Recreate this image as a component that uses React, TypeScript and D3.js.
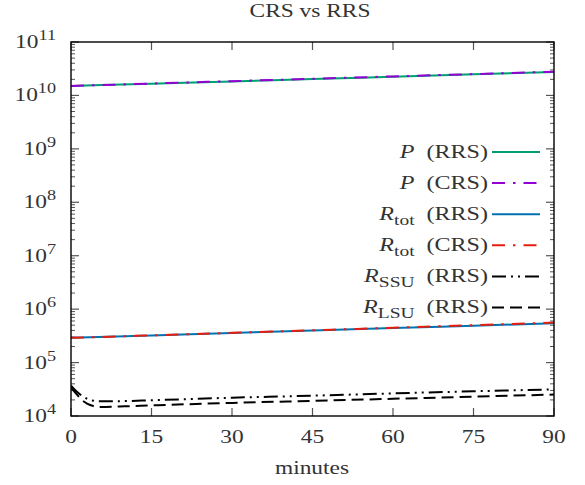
import React from "react";
import * as d3 from "d3";

// minutes
const tGrid = [0, 15, 30, 45, 60, 75, 90];
const tFine = [0, 1, 2, 3, 4, 5, 10, 15, 30, 45, 60, 75, 90];

const pRRS = [1.5e10, 1.66e10, 1.83e10, 2.03e10, 2.24e10, 2.48e10, 2.75e10];
const pCRS = [1.5e10, 1.67e10, 1.85e10, 2.05e10, 2.27e10, 2.51e10, 2.78e10];
const rTotRRS = [2.9e5, 3.22e5, 3.58e5, 3.97e5, 4.42e5, 4.9e5, 5.45e5];
const rTotCRS = [2.9e5, 3.23e5, 3.6e5, 4.02e5, 4.48e5, 5.0e5, 5.6e5];
const rSSU = [3.7e4, 2.9e4, 2.4e4, 2.1e4, 1.95e4, 1.88e4, 1.9e4, 1.97e4, 2.2e4, 2.4e4, 2.65e4, 2.9e4, 3.15e4];
const rLSU = [3.4e4, 2.6e4, 2.0e4, 1.7e4, 1.55e4, 1.48e4, 1.52e4, 1.58e4, 1.76e4, 1.92e4, 2.1e4, 2.3e4, 2.52e4];

const xTicks = [0, 15, 30, 45, 60, 75, 90];
const yDecades = [4, 5, 6, 7, 8, 9, 10, 11];

const W = 585, H = 485;
const left = 71, right = 554, top = 42, bottom = 416;
const SX = 1.3;
const FONT = "'Liberation Serif', serif";
const INK = "#333";

const series = [
  { name: "P", sub: "", tag: "(RRS)", t: tGrid, v: pRRS, color: "#009e73", dash: "" },
  { name: "P", sub: "", tag: "(CRS)", t: tGrid, v: pCRS, color: "#9400d3", dash: "13,8,2.5,8" },
  { name: "R", sub: "tot", tag: "(RRS)", t: tGrid, v: rTotRRS, color: "#0072b2", dash: "" },
  { name: "R", sub: "tot", tag: "(CRS)", t: tGrid, v: rTotCRS, color: "#e51e10", dash: "13,8,2.5,8" },
  { name: "R", sub: "SSU", tag: "(RRS)", t: tFine, v: rSSU, color: "#000", dash: "14,5,2,5,2,5" },
  { name: "R", sub: "LSU", tag: "(RRS)", t: tFine, v: rLSU, color: "#000", dash: "12,6" },
];

function Txt(props: { x: number; y: number; anchor: string; size: number; children: React.ReactNode }) {
  return (
    <g transform={`translate(${props.x},${props.y}) scale(${SX},1)`}>
      <text textAnchor={props.anchor} fontSize={props.size} fontFamily={FONT} fill={INK}>
        {props.children}
      </text>
    </g>
  );
}

export default function App() {
  const x = d3.scaleLinear().domain([0, 90]).range([left, right]);
  const y = d3.scaleLog().domain([1e4, 1e11]).range([bottom, top]);

  const minor: number[] = [];
  yDecades.slice(0, -1).forEach((d) => {
    for (let k = 2; k <= 9; k++) minor.push(k * Math.pow(10, d));
  });

  const lineGen = (t: number[]) =>
    d3
      .line<number>()
      .x((_, i) => x(t[i]))
      .y((d) => y(d))
      .curve(d3.curveMonotoneX);

  const legX1 = 492, legX2 = 540, legY0 = 152, legStep = 31.1;

  return (
    <svg width={W} height={H} style={{ position: "absolute", left: 0, top: 0 }}>
      <rect width={W} height={H} fill="#fff" />
      <defs>
        <clipPath id="plot">
          <rect x={left} y={top} width={right - left} height={bottom - top} />
        </clipPath>
      </defs>

      {/* ticks */}
      {xTicks.map((t) => (
        <g key={"xt" + t} stroke="#555" strokeWidth={1.2}>
          <line x1={x(t)} x2={x(t)} y1={bottom} y2={bottom - 8} />
          <line x1={x(t)} x2={x(t)} y1={top} y2={top + 8} />
        </g>
      ))}
      {yDecades.map((d) => (
        <g key={"yt" + d} stroke="#555" strokeWidth={1.2}>
          <line x1={left} x2={left + 8} y1={y(Math.pow(10, d))} y2={y(Math.pow(10, d))} />
          <line x1={right} x2={right - 8} y1={y(Math.pow(10, d))} y2={y(Math.pow(10, d))} />
        </g>
      ))}
      {minor.map((m) => (
        <g key={"ym" + m} stroke="#555" strokeWidth={1}>
          <line x1={left} x2={left + 4} y1={y(m)} y2={y(m)} />
          <line x1={right} x2={right - 4} y1={y(m)} y2={y(m)} />
        </g>
      ))}

      {/* data */}
      <g clipPath="url(#plot)">
        {series.map((s, i) => (
          <path
            key={"s" + i}
            d={lineGen(s.t)(s.v) || ""}
            fill="none"
            stroke={s.color}
            strokeWidth={2}
            strokeDasharray={s.dash || undefined}
          />
        ))}
      </g>

      {/* frame */}
      <rect x={left} y={top} width={right - left} height={bottom - top} fill="none" stroke="#000" strokeWidth={1.4} />

      {/* tick labels */}
      {xTicks.map((t) => (
        <Txt key={"xl" + t} x={x(t)} y={443} anchor="middle" size={18}>
          {t}
        </Txt>
      ))}
      {yDecades.map((d) => (
        <Txt key={"yl" + d} x={56} y={y(Math.pow(10, d)) + 6} anchor="end" size={18}>
          <tspan>10</tspan>
          <tspan dy={-8} fontSize={14}>{d}</tspan>
        </Txt>
      ))}

      {/* legend */}
      {series.map((s, i) => {
        const ly = legY0 + i * legStep;
        return (
          <g key={"lg" + i}>
            <Txt x={488} y={ly + 5.5} anchor="end" size={18.5}>
              <tspan fontStyle="italic">{s.name}</tspan>
              {s.sub ? (
                <>
                  <tspan dy={5} fontSize={15}>{s.sub}</tspan>
                  <tspan dy={-5}>{"\u2002" + s.tag}</tspan>
                </>
              ) : (
                <tspan>{"\u2002" + s.tag}</tspan>
              )}
            </Txt>
            <line
              x1={legX1}
              x2={legX2}
              y1={ly}
              y2={ly}
              stroke={s.color}
              strokeWidth={2}
              strokeDasharray={s.dash || undefined}
            />
          </g>
        );
      })}

      {/* titles */}
      <Txt x={310} y={17} anchor="middle" size={18}>
        CRS vs RRS
      </Txt>
      <Txt x={312} y={474} anchor="middle" size={18}>
        minutes
      </Txt>
    </svg>
  );
}
